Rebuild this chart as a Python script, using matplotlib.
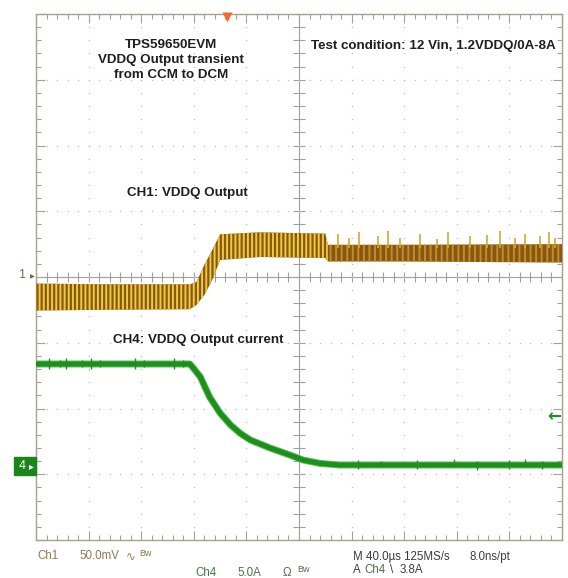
import numpy as np
import matplotlib
matplotlib.use('Agg')
import matplotlib.pyplot as plt
from matplotlib.patches import Rectangle

W, H = 568, 578

# scope settings
time_per_div = 40.0   # us / div
ch1_per_div = 50.0    # mV / div
ch4_per_div = 5.0     # A / div
ch4_ref = -2.875      # divisions, where the "4" ground marker sits
trig_t = 145.0        # us, orange trigger marker
trig_level = 3.8      # A

# CH1 VDDQ output, noise envelope in mV around the "1" marker
ch1_t = [0, 49, 117, 122, 128, 134, 140, 170, 220, 222, 277, 400]
ch1_hi = [-5.0, -5.5, -5.5, -3.8, 9.1, 20.5, 32.5, 34.0, 33.0, 24.5, 24.5, 25.0]
ch1_lo = [-25.5, -25.0, -24.5, -21.3, -13.7, -2.3, 12.9, 15.2, 14.4, 11.8, 11.8, 11.0]

# spikes riding on CH1 after the DCM transition (us, mV peak)
ch1_spike_t = [230, 238, 246, 260, 268, 277, 292, 305, 313, 330, 343, 353, 364, 372, 383, 390, 395]
ch1_spike_v = [33, 30, 34, 31, 35, 30, 33, 29, 34, 31, 32, 35, 30, 33, 31, 34, 30]

# CH4 VDDQ output current (A)
ch4_t = [0, 117, 119, 125, 132, 140, 148, 155, 163, 178, 193, 203, 216, 231, 400]
ch4_a = [7.76, 7.76, 7.53, 6.77, 5.25, 4.03, 3.12, 2.51, 1.98, 1.37, 0.84, 0.46, 0.2, 0.08, 0.08]

# small glitches on CH4 (us, low A, high A)
ch4_spike_t = [10, 18, 23, 35, 42, 49, 75, 82, 105, 112, 245, 262, 290, 318, 335, 360, 372, 385]
ch4_spike_lo = [7.4, 7.5, 7.4, 7.5, 7.4, 7.5, 7.4, 7.5, 7.4, 7.5, -0.2, -0.1, -0.2, -0.1, -0.3, -0.2, -0.1, -0.2]
ch4_spike_hi = [8.2, 8.1, 8.2, 8.1, 8.2, 8.1, 8.2, 8.1, 8.2, 8.1, 0.45, 0.4, 0.45, 0.5, 0.4, 0.45, 0.5, 0.4]

GRAT = '#a8a28c'
DOT = '#c2c2c2'
BROWN = '#8a5710'
YELLOW = '#eccb3c'
GREEN = '#1b901b'

plt.rcParams['hatch.linewidth'] = 1.4


def ftext(x, y, s, **kw):
    fig.text(x / W, 1 - y / H, s, **kw)


fig = plt.figure(figsize=(W / 100, H / 100), dpi=100)
fig.patch.set_facecolor('white')
ax = fig.add_axes([36 / W, 38 / H, 526 / W, 526 / H])
ax.set_xlim(0, 10 * time_per_div)
ax.set_ylim(-4, 4)

# graticule
for s in ax.spines.values():
    s.set_color(GRAT)
    s.set_linewidth(1.0)
ax.set_xticks(np.arange(0, 401, 40))
ax.set_xticks(np.arange(0, 401, 8), minor=True)
ax.set_yticks(np.arange(-4, 4.01, 1))
ax.set_yticks(np.arange(-4, 4.01, 0.2), minor=True)
ax.tick_params(which='both', direction='in', top=True, right=True,
               labelbottom=False, labelleft=False, color=GRAT, width=0.8)
ax.tick_params(which='major', length=6.5)
ax.tick_params(which='minor', length=3.6)

ax.axhline(0, color='#a0a0a0', lw=0.8, zorder=1)
ax.axvline(200, color='#a0a0a0', lw=0.8, zorder=1)
xm = np.arange(0, 401, 8)
ym = np.arange(-4, 4.01, 0.2)
ax.vlines(xm, -0.08, 0.08, color='#a0a0a0', lw=0.8, zorder=1)
ax.hlines(ym, 200 - 4.2, 200 + 4.2, color='#a0a0a0', lw=0.8, zorder=1)

for gx in np.arange(40, 400, 40):
    if gx != 200:
        ax.scatter(np.full(len(ym), gx), ym, s=1.2, color=DOT, lw=0, zorder=1)
for gy in range(-3, 4):
    if gy != 0:
        ax.scatter(xm, np.full(len(xm), gy), s=1.2, color=DOT, lw=0, zorder=1)

# CH1 trace (hatch gives the dense noise texture)
t1 = np.array(ch1_t)
hi1 = np.array(ch1_hi) / ch1_per_div
lo1 = np.array(ch1_lo) / ch1_per_div
ax.fill_between(t1, lo1, hi1, where=t1 <= 222, facecolor=BROWN, edgecolor=YELLOW,
                hatch='||||', lw=0, zorder=3)
ax.fill_between(t1, lo1, hi1, where=t1 >= 222, facecolor=BROWN, edgecolor='#c08c2c',
                hatch='|||', lw=0, zorder=3)
ax.vlines(ch1_spike_t, 22 / ch1_per_div, np.array(ch1_spike_v) / ch1_per_div,
          color='#d4a830', lw=1.2, zorder=3)

# CH4 trace
y4 = np.array(ch4_a) / ch4_per_div + ch4_ref
ax.plot(ch4_t, y4, color='#5cb85c', lw=5.0, solid_capstyle='butt', zorder=4)
ax.plot(ch4_t, y4, color=GREEN, lw=3.6, solid_capstyle='butt', zorder=4)
ax.vlines(ch4_spike_t, np.array(ch4_spike_lo) / ch4_per_div + ch4_ref,
          np.array(ch4_spike_hi) / ch4_per_div + ch4_ref, color=GREEN, lw=1.0, zorder=4)

# trigger marker and level arrow
ax.plot([trig_t], [3.95], marker='v', ms=7, color='#f36b2c', mec='none', clip_on=False, zorder=5)
ax.text(399, trig_level / ch4_per_div + ch4_ref, '\u2190', color=GREEN, fontsize=12,
        fontweight='bold', ha='right', va='center', zorder=5)

# channel markers on the left
ftext(22, 275, '1', color='#7d6c4c', fontsize=9, ha='center', va='center',
      family=['Liberation Sans', 'DejaVu Sans'])
ftext(32, 275, '\u25b8', color='#7d6c4c', fontsize=7, ha='center', va='center')
fig.patches.append(Rectangle((14 / W, 1 - 475 / H), 22 / W, 18 / H,
                             transform=fig.transFigure, color='#1a861a'))
ftext(22, 466, '4', color='white', fontsize=9, ha='center', va='center',
      family=['Liberation Sans', 'DejaVu Sans'])
ftext(31, 466, '\u25b8', color='white', fontsize=7, ha='center', va='center')

# annotations inside the screen
bold = dict(family=['Liberation Sans', 'DejaVu Sans'], fontsize=9.6,
            fontweight='bold', color='#1e1e1e', va='baseline')
ftext(171, 48.3, 'TPS59650EVM', ha='center', **bold)
ftext(171, 63, 'VDDQ Output transient', ha='center', **bold)
ftext(171, 77.5, 'from CCM to DCM', ha='center', **bold)
ftext(311, 48.5, 'Test condition: 12 Vin, 1.2VDDQ/0A-8A', ha='left', **bold)
ftext(127, 196, 'CH1: VDDQ Output', ha='left', **bold)
ftext(113, 343.5, 'CH4: VDDQ Output current', ha='left', **bold)

# status readout below the screen
narrow = dict(family=['Liberation Sans', 'DejaVu Sans'], fontsize=8.3, va='baseline')
small = dict(narrow, fontsize=6.5)
c1 = '#8c7a48'
c4 = '#4f6f4f'
cm = '#3c3c3c'
ftext(37, 559, 'Ch1', color=c1, **narrow)
ftext(79, 559, '50.0mV', color=c1, **narrow)
ftext(126, 559, '\u223f', color=c1, **narrow)
ftext(139, 556, 'Bw', color=c1, **small)
ftext(195, 575.5, 'Ch4', color=c4, **narrow)
ftext(237, 575.5, '5.0A', color=c4, **narrow)
ftext(283, 575.5, '\u03a9', color=c4, **narrow)
ftext(297, 572.5, 'Bw', color=c4, **small)
ftext(353, 560, 'M 40.0\u00b5s 125MS/s', color=cm, **narrow)
ftext(470, 560, '8.0ns/pt', color=cm, **narrow)
ftext(353, 573, 'A', color=cm, **narrow)
ftext(364, 573, 'Ch4', color=c4, **narrow)
ftext(390, 573, '\\', color=cm, **narrow)
ftext(400, 573, '3.8A', color=cm, **narrow)

fig.savefig('out.png', dpi=100, facecolor='white')
